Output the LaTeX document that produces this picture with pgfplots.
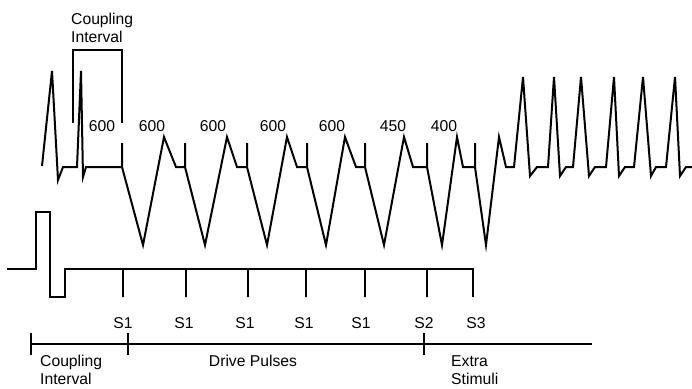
\documentclass[border=0pt]{standalone}
\usepackage{fontspec}
\setmainfont{Liberation Sans}
\usepackage{pgfplots}
\pgfplotsset{compat=1.18}
\tikzset{lbl/.style={inner sep=0pt, font=\fontsize{15.7}{19}\selectfont},
  trace/.style={black, line width=2pt, mark=none, line join=miter}}

\begin{document}
\begin{tikzpicture}
\begin{axis}[name=ax,
    hide axis, scale only axis,
    width=692pt, height=388pt,
    xmin=0, xmax=692, ymin=0, ymax=388,
    y dir=reverse, clip=false
    ]

% intracardiac trace
\addplot[trace] coordinates {
 (42,166) (52,71) (58,180) (63,167) (77,167) (81,71) (83,177) (86,167)
 (122,167) (122,143) (122,167) (143,245) (164,137) (176,167)
 (185,167) (185,143) (185,167) (205,245) (227,137) (237,167)
 (247,167) (247,143) (247,167) (267,245) (287,137) (297,167)
 (307,167) (307,143) (307,167) (326,245) (345,137) (356,167)
 (365,167) (365,143) (365,167) (384,245) (404,137) (413,167)
 (427,167) (427,143) (427,167) (442,245) (457,137) (463,167)
 (475,167) (475,143) (475,167) (486,245) (499,137) (506,167)
 (514,167) (523,77) (530,176) (537,167) (548,167) (554,77) (560,176) (566,167)
 (573,167) (581,77) (589,176) (595,167) (606,167) (614,77) (619,176) (625,167)
 (634,167) (643,77) (651,176) (656,167) (666,167) (675,77) (680,176) (686,167)
 (692,167)
};

% coupling interval bracket
\addplot[trace, line width=1.4pt] coordinates {(73,123) (73,50) (122,50) (122,123)};

% stimulus trace
\addplot[trace] coordinates {
 (7,269) (36,269) (36,212) (50,212) (50,297) (65,297) (65,269)
 (123,269) (123,297) (123,269)
 (186,269) (186,297) (186,269)
 (248,269) (248,297) (248,269)
 (306,269) (306,297) (306,269)
 (365,269) (365,297) (365,269)
 (427,269) (427,297) (427,269)
 (473,269) (473,297)
};

% timeline
\addplot[trace, line width=1.3pt] coordinates {(31,344) (592,344)};
\addplot[trace, line width=1.3pt] coordinates {(31,333) (31,355)};
\addplot[trace, line width=1.3pt] coordinates {(128,333) (128,355)};
\addplot[trace, line width=1.3pt] coordinates {(424,333) (424,355)};

% labels
\node[lbl, anchor=base west] at (axis cs:71,24) {Coupling};
\node[lbl, anchor=base west] at (axis cs:71,42) {Interval};

\node[lbl, anchor=base] at (axis cs:102,131) {600};
\node[lbl, anchor=base] at (axis cs:152,131) {600};
\node[lbl, anchor=base] at (axis cs:213,131) {600};
\node[lbl, anchor=base] at (axis cs:273,131) {600};
\node[lbl, anchor=base] at (axis cs:332,131) {600};
\node[lbl, anchor=base] at (axis cs:393,131) {450};
\node[lbl, anchor=base] at (axis cs:444,131) {400};

\node[lbl, anchor=base] at (axis cs:123,328) {S1};
\node[lbl, anchor=base] at (axis cs:184,328) {S1};
\node[lbl, anchor=base] at (axis cs:245,328) {S1};
\node[lbl, anchor=base] at (axis cs:304,328) {S1};
\node[lbl, anchor=base] at (axis cs:361,328) {S1};
\node[lbl, anchor=base] at (axis cs:424,328) {S2};
\node[lbl, anchor=base] at (axis cs:476,328) {S3};

\node[lbl, anchor=base west] at (axis cs:40,366) {Coupling};
\node[lbl, anchor=base west] at (axis cs:40,384) {Interval};
\node[lbl, anchor=base] at (axis cs:253,366) {Drive Pulses};
\node[lbl, anchor=base west] at (axis cs:451,366) {Extra};
\node[lbl, anchor=base west] at (axis cs:451,384) {Stimuli};

\end{axis}
\pgfresetboundingbox
\path (ax.south west) rectangle (ax.north east);
\end{tikzpicture}
\end{document}
